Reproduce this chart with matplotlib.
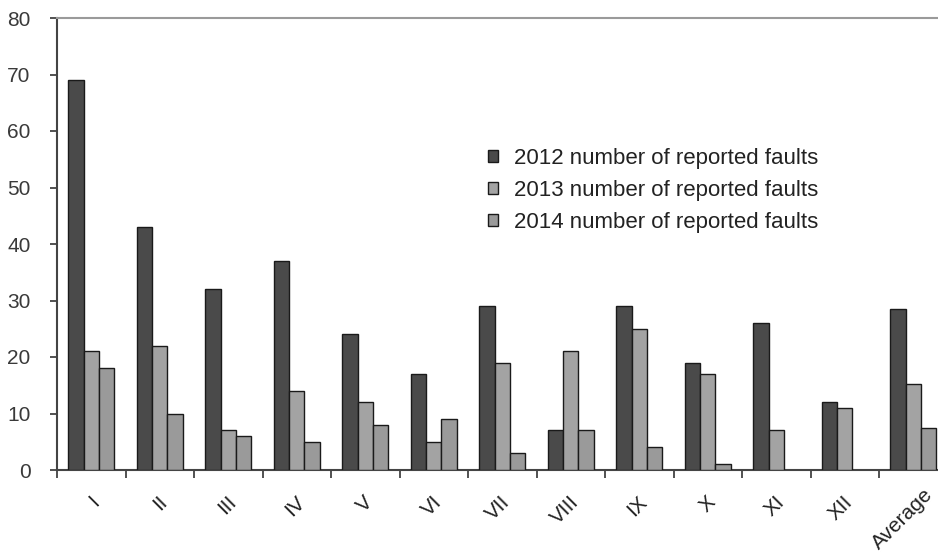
import numpy as np
import matplotlib
matplotlib.use('Agg')
import matplotlib.pyplot as plt
import matplotlib.transforms as mtransforms

plt.rcParams['font.family'] = ['Liberation Sans', 'DejaVu Sans']

# --- data ---
categories = ['I', 'II', 'III', 'IV', 'V', 'VI', 'VII', 'VIII', 'IX', 'X', 'XI', 'XII', 'Average']
faults_2012 = [69, 43, 32, 37, 24, 17, 29, 7, 29, 19, 26, 12, 28.5]
faults_2013 = [21, 22, 7, 14, 12, 5, 19, 21, 25, 17, 7, 11, 15.2]
faults_2014 = [18, 10, 6, 5, 8, 9, 3, 7, 4, 1, 0, 0, 7.4]
series_labels = ['2012 number of reported faults',
                 '2013 number of reported faults',
                 '2014 number of reported faults']

fig = plt.figure(figsize=(9.38, 5.6), dpi=100)
ax = fig.add_axes([57 / 938, 90 / 560, 1 - 57 / 938, 452 / 560])

x = np.arange(len(categories)) + 0.5
w = 0.224
colors = ['#4a4a4a', '#a3a3a3', '#9a9a9a']
for i, (vals, col, lab) in enumerate(zip([faults_2012, faults_2013, faults_2014], colors, series_labels)):
    v = np.array(vals, dtype=float)
    ax.bar(x + (i - 1) * w, np.where(v > 0, v, np.nan), width=w, color=col,
           edgecolor='#1a1a1a', linewidth=1.0, label=lab, zorder=3)

ax.set_ylim(0, 80)
ax.set_xlim(0, 881 / 68.5)
ax.set_yticks(range(0, 81, 10))
ax.tick_params(axis='y', direction='out', length=5, width=1.2, colors='#333333',
               labelsize=15, labelcolor='#3a3a3a', pad=14)

# ticks between groups, labels at group centres
ax.set_xticks(np.arange(0, len(categories)))
ax.set_xticklabels([])
ax.tick_params(axis='x', direction='out', length=6, width=1.2, colors='#333333')
for xi, lab in zip(x, categories):
    # the long last label sits higher and further right, as in the original
    if lab == 'Average':
        offset = mtransforms.ScaledTranslation(0.17, -0.22, fig.dpi_scale_trans)
    else:
        offset = mtransforms.ScaledTranslation(0.05, -0.29, fig.dpi_scale_trans)
    ax.text(xi, 0, lab, rotation=45, ha='right', va='center', rotation_mode='anchor',
            fontsize=15, color='#222222',
            transform=ax.get_xaxis_transform() + offset)

for s in ['left', 'bottom']:
    ax.spines[s].set_color('#444444')
    ax.spines[s].set_linewidth(1.5)
ax.spines['top'].set_color('#9a9a9a')
ax.spines['top'].set_linewidth(1.5)
ax.spines['right'].set_visible(False)

leg = ax.legend(loc='upper left', bbox_to_anchor=(488 / 938, 1 - 148 / 560),
                bbox_transform=fig.transFigure, frameon=False, borderpad=0,
                fontsize=16, handlelength=0.45, handleheight=0.45, handletextpad=0.7,
                labelspacing=0.5, borderaxespad=0)
for t in leg.get_texts():
    t.set_color('#222222')

fig.savefig('out.png', dpi=100)
